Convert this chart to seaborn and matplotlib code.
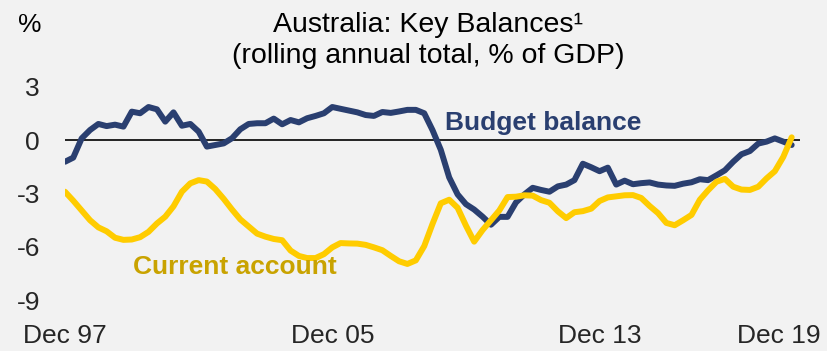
import pandas as pd
import numpy as np
import matplotlib
matplotlib.use('Agg')
import matplotlib.pyplot as plt
import matplotlib.transforms as mtransforms
import seaborn as sns

# quarterly, Dec 1997 .. Sep 2019 (rolling annual totals, % of GDP)
dates = pd.date_range('1997-12-01', periods=88, freq='3MS')

budget_balance = [
    -1.22, -0.99, 0.09, 0.56, 0.90, 0.78, 0.86, 0.75, 1.59, 1.50,
    1.85, 1.72, 1.03, 1.55, 0.80, 0.90, 0.47, -0.37, -0.28, -0.19,
    0.10, 0.60, 0.90, 0.94, 0.94, 1.20, 0.88, 1.12, 0.99, 1.22,
    1.35, 1.50, 1.85, 1.75, 1.65, 1.55, 1.40, 1.35, 1.57, 1.52,
    1.60, 1.69, 1.69, 1.50, 0.55, -0.55, -2.10, -3.05, -3.60, -3.90,
    -4.30, -4.75, -4.31, -4.31, -3.50, -3.05, -2.68, -2.80, -2.90, -2.60,
    -2.50, -2.25, -1.33, -1.53, -1.75, -1.55, -2.50, -2.28, -2.48, -2.42,
    -2.38, -2.50, -2.55, -2.57, -2.45, -2.37, -2.20, -2.25, -1.98, -1.70,
    -1.22, -0.80, -0.62, -0.20, -0.09, 0.09, -0.09, -0.28,
]

current_account = [
    -2.90, -3.40, -3.95, -4.50, -4.90, -5.12, -5.48, -5.60, -5.58, -5.45,
    -5.15, -4.68, -4.30, -3.72, -2.90, -2.43, -2.25, -2.33, -2.75, -3.30,
    -3.90, -4.45, -4.85, -5.25, -5.42, -5.55, -5.62, -6.20, -6.50, -6.62,
    -6.62, -6.40, -6.02, -5.78, -5.80, -5.81, -5.88, -6.02, -6.18, -6.50,
    -6.80, -6.95, -6.75, -5.95, -4.70, -3.55, -3.35, -3.80, -4.80, -5.70,
    -5.05, -4.50, -3.95, -3.20, -3.18, -3.10, -3.12, -3.37, -3.52, -4.00,
    -4.38, -4.05, -3.99, -3.85, -3.42, -3.22, -3.16, -3.10, -3.09, -3.25,
    -3.70, -4.10, -4.65, -4.78, -4.50, -4.20, -3.35, -2.82, -2.34, -2.18,
    -2.62, -2.78, -2.80, -2.62, -2.15, -1.75, -0.95, 0.15,
]

series_names = ['Budget balance', 'Current account']
y_ticks = [-9, -6, -3, 0, 3]
x_tick_dates = ['1997-12-01', '2005-12-01', '2013-12-01', '2019-12-01']
x_tick_labels = ['Dec 97', 'Dec 05', 'Dec 13', 'Dec 19']

NAVY = '#2A3F70'
GOLD = '#FFCC00'
GOLD_TXT = '#C9A300'
BG = '#F2F2F2'

df = pd.DataFrame({
    'date': np.concatenate([dates, dates]),
    'value': budget_balance + current_account,
    'series': [series_names[0]] * len(dates) + [series_names[1]] * len(dates),
})

sns.set_theme(style='white')
plt.rcParams['font.family'] = ['Liberation Sans', 'DejaVu Sans']
plt.rcParams['figure.facecolor'] = BG
plt.rcParams['axes.facecolor'] = BG

fig = plt.figure(figsize=(8.27, 3.51), dpi=100)
ax = fig.add_axes([65 / 827, 50.5 / 351, 735 / 827, 214 / 351])

ax.axhline(0, color='black', linewidth=1.2, zorder=1)
sns.lineplot(data=df, x='date', y='value', hue='series',
             palette={series_names[0]: NAVY, series_names[1]: GOLD},
             linewidth=4.3, legend=False, ax=ax, zorder=3)

ax.set_xlim(pd.Timestamp('1997-12-01'), pd.Timestamp('2019-12-01'))
ax.set_ylim(-9, 3)
ax.set_yticks(y_ticks)
ax.set_yticklabels([str(t) for t in y_ticks])
ax.set_xticks(pd.to_datetime(x_tick_dates))
ax.set_xticklabels(x_tick_labels)
ax.tick_params(axis='y', length=0, pad=18, labelsize=19)
ax.tick_params(axis='x', length=0, pad=17, labelsize=19)
ax.set_xlabel('')
ax.set_ylabel('')
for s in ax.spines.values():
    s.set_visible(False)

# last label is pulled in so it stays inside the figure
lbl = ax.get_xticklabels()[-1]
lbl.set_transform(lbl.get_transform() + mtransforms.ScaledTranslation(-0.21, 0, fig.dpi_scale_trans))

ax.text(0.517, 0.797, 'Budget balance', transform=ax.transAxes, color=NAVY,
        fontsize=19, fontweight='bold', va='baseline', ha='left')
ax.text(0.0925, 0.1225, 'Current account', transform=ax.transAxes, color=GOLD_TXT,
        fontsize=19, fontweight='bold', va='baseline', ha='left')

fig.text(428 / 827, 1 - 32 / 351, 'Australia: Key Balances\u00b9', fontsize=20.5,
         ha='center', va='baseline', color='black')
fig.text(428 / 827, 1 - 63 / 351, '(rolling annual total, % of GDP)', fontsize=20.5,
         ha='center', va='baseline', color='black')
fig.text(18 / 827, 1 - 32 / 351, '%', fontsize=19, ha='left', va='baseline', color='black')

fig.savefig('out.png', dpi=100, facecolor=BG)
